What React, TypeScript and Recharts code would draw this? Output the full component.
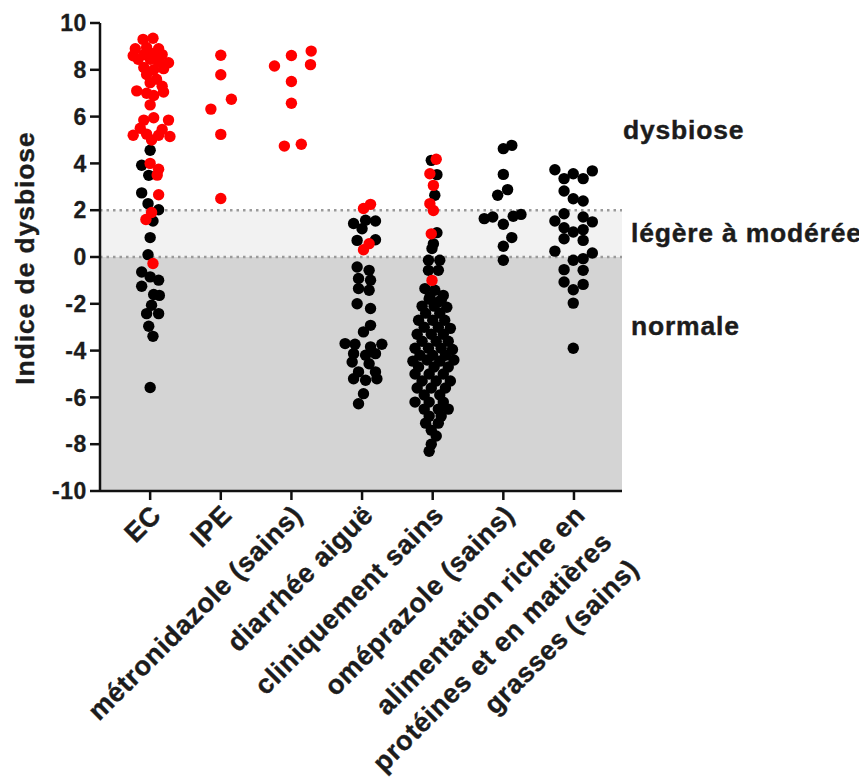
import React from 'react';
import {
  ScatterChart, Scatter, XAxis, YAxis, ReferenceArea, ReferenceLine,
} from 'recharts';

// Category labels (multi-line label uses \n)
const CATEGORIES = [
  'EC',
  'IPE',
  'métronidazole (sains)',
  'diarrhée aiguë',
  'cliniquement sains',
  'oméprazole (sains)',
  'alimentation riche en\nprotéines et en matières\ngrasses (sains)',
];

const Y_TICKS = [-10, -8, -6, -4, -2, 0, 2, 4, 6, 8, 10];
const X_TICKS = [1, 2, 3, 4, 5, 6, 7];

// Each point: [horizontal jitter within the category, dysbiosis index]
const ecRed: [number, number][] = [
  [-0.10, 9.3], [0.04, 9.35], [-0.21, 8.9], [-0.05, 8.95], [0.12, 8.9],
  [-0.24, 8.6], [-0.09, 8.65], [0.05, 8.7], [0.17, 8.65], [-0.17, 8.45],
  [0.0, 8.45], [0.12, 8.35], [0.26, 8.3], [-0.09, 8.1], [0.05, 8.0],
  [0.19, 8.05], [-0.05, 7.8], [0.09, 7.6], [0.0, 7.45], [0.17, 7.3],
  [-0.19, 7.1], [-0.05, 7.0], [0.19, 7.05], [0.05, 6.9], [0.0, 6.5],
  [-0.09, 5.85], [0.05, 5.95], [0.26, 5.85], [-0.14, 5.5], [0.17, 5.45],
  [-0.24, 5.2], [-0.05, 5.25], [0.12, 5.2], [0.28, 5.15], [0.02, 5.0],
  [0.0, 4.0], [0.12, 3.75], [0.1, 3.5], [0.12, 2.66], [0.02, 1.9],
  [-0.06, 1.6], [0.04, -0.28],
];
const ecBlack: [number, number][] = [
  [0.0, 4.56], [-0.12, 3.92], [-0.02, 3.49], [-0.12, 2.74], [-0.03, 2.28],
  [0.12, 2.02], [0.04, 1.54], [0.0, 0.83], [-0.03, 0.1], [-0.12, -0.64],
  [0.0, -0.85], [0.12, -0.99], [-0.12, -1.25], [0.05, -1.6], [0.13, -1.64],
  [0.02, -2.06], [-0.05, -2.42], [0.12, -2.42], [-0.02, -2.96], [0.04, -3.39],
  [0.0, -5.58],
];
const ipeRed: [number, number][] = [
  [0.0, 8.62], [0.0, 7.79], [0.15, 6.74], [-0.14, 6.32], [0.0, 5.24], [0.0, 2.5],
];
const metroRed: [number, number][] = [
  [-0.24, 8.16], [0.0, 8.61], [0.28, 8.8], [0.27, 8.22], [0.0, 7.5],
  [0.0, 6.57], [-0.1, 4.74], [0.14, 4.82],
];
const diarRed: [number, number][] = [
  [0.02, 2.07], [0.12, 2.25], [0.1, 0.57], [0.02, 0.31],
];
const diarBlack: [number, number][] = [
  [-0.12, 1.43], [0.05, 1.57], [0.19, 1.54], [0.0, 1.21], [-0.07, 0.71],
  [0.19, 0.74], [-0.07, -0.43], [0.1, -0.57], [-0.05, -0.92], [0.12, -0.99],
  [-0.05, -1.35], [0.1, -1.42], [-0.07, -2.0], [0.12, -2.2], [0.12, -2.92],
  [0.02, -3.2], [-0.24, -3.7], [-0.1, -3.73], [0.12, -3.84], [0.28, -3.73],
  [-0.12, -4.13], [0.05, -4.2], [0.19, -4.13], [-0.14, -4.49], [0.1, -4.56],
  [-0.05, -4.91], [0.19, -4.91], [-0.12, -5.2], [0.05, -5.27], [0.21, -5.2],
  [0.02, -5.84], [-0.05, -6.27],
];
const cliniRed: [number, number][] = [
  [0.05, 4.18], [-0.04, 3.56], [0.01, 3.06], [-0.04, 2.28], [0.01, 1.99],
  [-0.02, 0.99], [-0.01, -1.0],
];
const cliniBlack: [number, number][] = [
  [-0.02, 4.13], [0.06, 3.52], [0.03, 2.64], [0.06, 1.04], [0.01, 0.57],
  [-0.01, 0.36], [-0.06, -0.14], [0.1, -0.14], [-0.06, -0.57], [0.08, -0.57],
  [-0.11, -1.35], [0.03, -1.42], [0.15, -1.64], [-0.04, -1.71], [0.08, -1.92],
  [-0.05, -1.8], [0.12, -1.85], [-0.15, -2.1], [0.02, -2.1], [0.2, -2.15],
  [-0.1, -2.4], [0.1, -2.4], [-0.2, -2.7], [0.0, -2.7], [0.17, -2.7],
  [-0.12, -3.0], [0.08, -3.0], [0.25, -3.05], [-0.22, -3.3], [-0.02, -3.3],
  [0.15, -3.3], [-0.15, -3.6], [0.05, -3.6], [0.22, -3.6], [-0.25, -3.9],
  [-0.06, -3.9], [0.12, -3.9], [0.28, -3.95], [-0.18, -4.2], [0.0, -4.2],
  [0.18, -4.2], [-0.28, -4.45], [-0.08, -4.4], [0.1, -4.45], [0.3, -4.4],
  [-0.2, -4.7], [0.02, -4.7], [0.22, -4.7], [-0.25, -5.0], [-0.05, -5.0],
  [0.15, -5.0], [-0.15, -5.3], [0.05, -5.3], [0.25, -5.3], [-0.22, -5.6],
  [-0.02, -5.6], [0.18, -5.6], [-0.12, -5.9], [0.1, -5.9], [-0.25, -6.2],
  [-0.05, -6.2], [0.15, -6.2], [-0.12, -6.5], [0.08, -6.5], [0.22, -6.5],
  [-0.05, -6.8], [0.12, -6.8], [-0.1, -7.1], [0.08, -7.1], [-0.02, -7.4],
  [0.05, -7.65], [-0.02, -8.0], [-0.05, -8.3],
];
const omeBlack: [number, number][] = [
  [0.0, 4.63], [0.12, 4.77], [0.0, 3.53], [0.06, 2.88], [-0.08, 2.64],
  [-0.27, 1.64], [-0.15, 1.71], [0.0, 1.4], [0.14, 1.74], [0.25, 1.82],
  [0.12, 0.83], [0.0, 0.46], [0.0, -0.14],
];
const alimBlack: [number, number][] = [
  [-0.27, 3.73], [-0.14, 3.35], [-0.01, 3.56], [0.13, 3.35], [0.26, 3.68],
  [-0.14, 2.82], [-0.01, 2.49], [0.13, 2.39], [-0.14, 1.85], [-0.27, 1.54],
  [0.13, 1.71], [0.26, 1.5], [-0.14, 1.25], [-0.01, 1.07], [0.13, 1.17],
  [-0.14, 0.78], [0.13, 0.71], [-0.27, 0.25], [0.26, 0.17], [-0.01, -0.14],
  [0.13, -0.07], [-0.14, -0.54], [0.13, -0.57], [-0.14, -1.07], [0.13, -1.17],
  [-0.01, -1.4], [-0.01, -1.97], [-0.01, -3.9],
];

const toPoints = (group: number, pts: [number, number][]) =>
  pts.map(([dx, v]) => ({ x: group + dx, y: v }));

const blackData = [
  ...toPoints(1, ecBlack),
  ...toPoints(4, diarBlack),
  ...toPoints(5, cliniBlack),
  ...toPoints(6, omeBlack),
  ...toPoints(7, alimBlack),
];
const redData = [
  ...toPoints(1, ecRed),
  ...toPoints(2, ipeRed),
  ...toPoints(3, metroRed),
  ...toPoints(4, diarRed),
  ...toPoints(5, cliniRed),
];

const FONT = '"Liberation Sans", Arial, Helvetica, sans-serif';

const XTick = (props: any) => {
  const { x, y, payload } = props;
  const label = CATEGORIES[Math.round(payload.value) - 1] || '';
  const lines = label.split('\n');
  return (
    <g transform={`translate(${x + 6},${y + 8})`}>
      <text
        transform="rotate(-45)"
        textAnchor="end"
        fontFamily={FONT}
        fontWeight="bold"
        fontSize={27}
        letterSpacing={0.6}
        fill="#1c1c1c"
        stroke="#1c1c1c"
        strokeWidth={0.4}
      >
        {lines.map((ln, i) => (
          <tspan key={i} x={0} dy={i === 0 ? '0.35em' : 38}>{ln}</tspan>
        ))}
      </text>
    </g>
  );
};

const Dot = (color: string) => (props: any) => (
  <circle cx={props.cx} cy={props.cy} r={5.7} fill={color} />
);

const sideLabel = (text: string, dx: number, dy: number) => (props: any) => {
  const vb = props.viewBox || {};
  return (
    <text
      x={vb.x + vb.width + dx}
      y={vb.y + dy}
      fontFamily={FONT}
      fontWeight="bold"
      fontSize={26.5}
      letterSpacing={0.8}
      fill="#1c1c1c"
      stroke="#1c1c1c"
      strokeWidth={0.4}
    >
      {text}
    </text>
  );
};

const YLabel = (props: any) => {
  const vb = props.viewBox || {};
  const cx = vb.x + 17;
  const cy = vb.y + vb.height / 2 + 1;
  return (
    <text
      x={cx}
      y={cy}
      transform={`rotate(-90, ${cx}, ${cy})`}
      textAnchor="middle"
      dominantBaseline="central"
      fontFamily={FONT}
      fontWeight="bold"
      fontSize={26.5}
      letterSpacing={0.9}
      fill="#1c1c1c"
      stroke="#1c1c1c"
      strokeWidth={0.4}
    >
      Indice de dysbiose
    </text>
  );
};

export default function App() {
  return (
    <ScatterChart
      width={867}
      height={780}
      margin={{ top: 15, right: 253, bottom: 17, left: 0 }}
    >
      <ReferenceArea y1={2} y2={10} fill="#ffffff" fillOpacity={0} stroke="none"
        label={sideLabel('dysbiose', 1, 116)} />
      <ReferenceArea y1={0} y2={2} fill="#f2f2f2" fillOpacity={1} stroke="none"
        label={sideLabel('légère à modérée', 9, 32)} />
      <ReferenceArea y1={-10} y2={0} fill="#d4d4d4" fillOpacity={1} stroke="none"
        label={sideLabel('normale', 9, 78)} />
      <ReferenceLine y={2} stroke="#9a9a9a" strokeWidth={2.5} strokeDasharray="2.5 4" />
      <ReferenceLine y={0} stroke="#9a9a9a" strokeWidth={2.5} strokeDasharray="2.5 4" />
      <XAxis
        type="number"
        dataKey="x"
        domain={[0.29, 7.68]}
        ticks={X_TICKS}
        interval={0}
        height={280}
        tickSize={9}
        axisLine={{ stroke: '#111', strokeWidth: 2.5 }}
        tickLine={{ stroke: '#111', strokeWidth: 2.5 }}
        tick={<XTick />}
        allowDataOverflow
      />
      <YAxis
        type="number"
        dataKey="y"
        domain={[-10, 10]}
        ticks={Y_TICKS}
        interval={0}
        width={92}
        tickSize={10}
        tickMargin={3}
        axisLine={{ stroke: '#111', strokeWidth: 2.5 }}
        tickLine={{ stroke: '#111', strokeWidth: 2.5 }}
        tick={{ fontFamily: FONT, fontWeight: 'bold', fontSize: 23, fill: '#1c1c1c', stroke: '#1c1c1c', strokeWidth: 0.3, letterSpacing: 0.6 }}
        label={<YLabel />}
        allowDataOverflow
      />
      <Scatter data={blackData} fill="#000" shape={Dot('#000')} isAnimationActive={false} />
      <Scatter data={redData} fill="#ff0000" shape={Dot('#ff0000')} isAnimationActive={false} />
    </ScatterChart>
  );
}
